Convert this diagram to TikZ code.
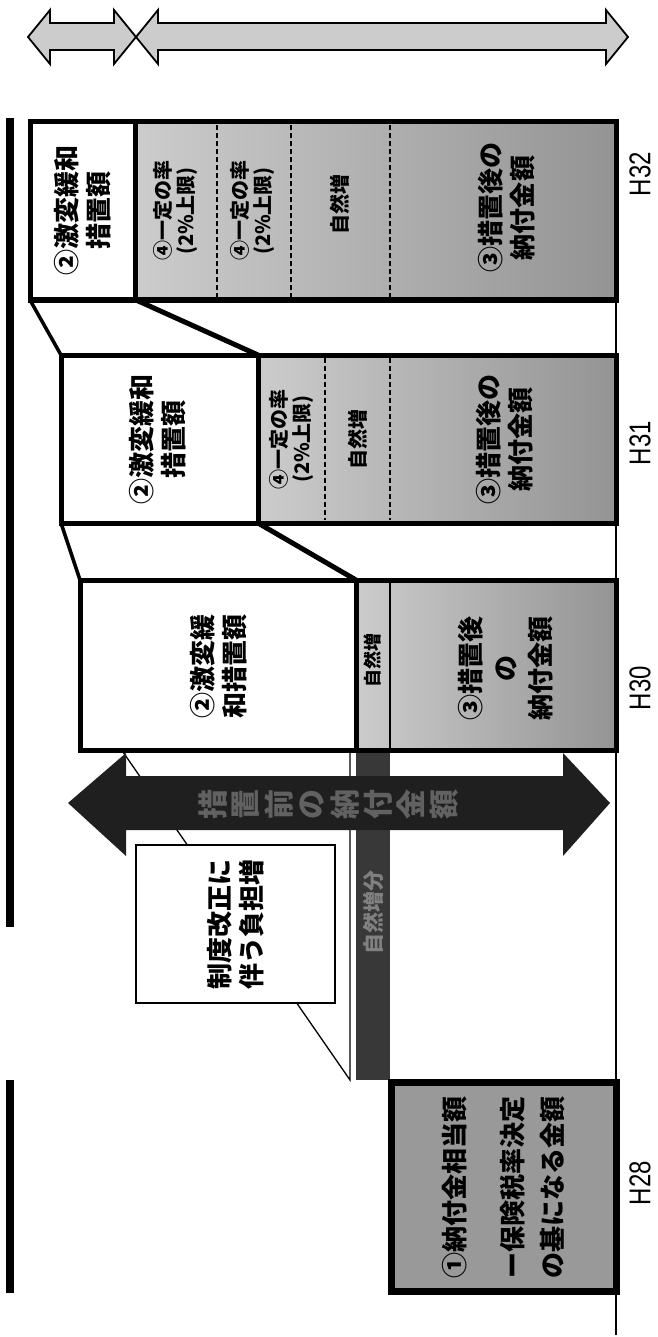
\documentclass[tikz,border=0pt]{standalone}
\usepackage{fontspec}
\setmainfont{Noto Sans CJK JP}
\newfontfamily\latn[FakeStretch=0.8]{Liberation Sans}
\usetikzlibrary{calc}
\begin{document}
\begin{tikzpicture}[x=1pt,y=-1pt,
  bigtxt/.style={rotate=90,align=center,inner sep=0pt,font=\fontsize{26}{32}\selectfont\bfseries},
  smalltxt/.style={rotate=90,align=center,inner sep=0pt,font=\fontsize{20}{23}\selectfont\bfseries},
  yearlbl/.style={rotate=90,inner sep=0pt,font=\latn\fontsize{30}{32}\selectfont},
  graybox/.style={left color=black!20,right color=black!42},
  thickframe/.style={line width=5pt},
  divider/.style={line width=1.6pt,dashed,dash pattern=on 5pt off 3pt},
  toparrow/.style={fill=black!20,draw=black,line width=1.8pt,line join=miter},
  wedge/.style={fill=white,draw=black,line width=1.3pt},
  darkfill/.style={fill=black!78}
]
\useasboundingbox (0,0) rectangle (657,1337);
\fill[white] (0,0) rectangle (657,1337);

% top arrows
\draw[toparrow] (28,37) -- (50,10) -- (50,23) -- (114,23) -- (114,10) -- (136,37)
   -- (114,64) -- (114,50) -- (50,50) -- (50,64) -- cycle;
\draw[toparrow] (136,37) -- (158,10) -- (158,23) -- (606,23) -- (606,10) -- (628,37)
   -- (606,64) -- (606,50) -- (158,50) -- (158,64) -- cycle;

% left bars
\fill[black] (6,118) rectangle (14,927);
\fill[black] (6,1080) rectangle (14,1293);

% baseline
\coordinate (base top) at (616,120);
\coordinate (base bot) at (616,1335);
\draw[line width=2pt] (base top) -- (base bot);

% wedge for H28 -> H30
\draw[wedge] (123,752) -- (350,752) -- (350,1080) -- cycle;
% natural increase bar
\fill[darkfill] (356,752) rectangle (390,1080);
\node[rotate=90,text=black!50,font=\fontsize{21}{24}\selectfont\bfseries] (nb) at (373,912) {自然増分};

% trapezoids
\fill[white] (30,300) -- (136,300) -- (258,355) -- (61,355) -- cycle;
\draw[line width=3.5pt] (30,300) -- (61,355);
\draw[line width=5pt] (136,300) -- (258,355);
\fill[white] (61,523) -- (258,523) -- (356,580) -- (80,580) -- cycle;
\draw[line width=3.5pt] (61,523) -- (80,580);
\draw[line width=5pt] (258,523) -- (356,580);

% H32
\fill[graybox] (135,122) rectangle (616,300);
\fill[white] (30,122) rectangle (135,300);
\foreach \xx in {217,291,390} \draw[divider] (\xx,125) -- (\xx,297);
\draw[thickframe] (30,122) rectangle (616,300);
\draw[thickframe] (135,122) -- (135,300);
\node[bigtxt] (g32) at (83,211) {②激変緩和\\措置額};
\node[smalltxt] (r32a) at (175,211) {④一定の率\\(2\%上限)};
\node[smalltxt] (r32b) at (252,211) {④一定の率\\(2\%上限)};
\node[smalltxt] (n32) at (340,205) {自然増};
\node[bigtxt] (p32) at (507,208) {③措置後の\\納付金額};
\node[yearlbl] (y32) at (640,174) {H32};

% H31
\fill[graybox] (258,355) rectangle (616,523);
\fill[white] (61,355) rectangle (258,523);
\foreach \xx in {325,390} \draw[divider] (\xx,358) -- (\xx,520);
\draw[thickframe] (61,355) rectangle (616,523);
\draw[thickframe] (258,355) -- (258,523);
\node[bigtxt] (g31) at (158,439) {②激変緩和\\措置額};
\node[smalltxt] (r31) at (291,439) {④一定の率\\(2\%上限)};
\node[smalltxt] (n31) at (358,439) {自然増};
\node[bigtxt] (p31) at (505,439) {③措置後の\\納付金額};
\node[yearlbl] (y31) at (640,443) {H31};

% H30
\fill[graybox] (356,580) rectangle (616,750);
\fill[white] (80,580) rectangle (356,750);
\draw[line width=1.4pt] (390,582) -- (390,748);
\draw[thickframe] (80,580) rectangle (616,750);
\draw[thickframe] (356,580) -- (356,750);
\node[bigtxt] (g30) at (219,666) {②激変緩\\和措置額};
\node[smalltxt,font=\fontsize{18}{20}\selectfont\bfseries] (n30) at (373,660) {自然増};
\node[bigtxt,font=\fontsize{26}{35}\selectfont\bfseries] (p30) at (506,668) {③措置後\\の\\納付金額};
\node[yearlbl] (y30) at (640,688) {H30};

% big dark double arrow
\fill[black!88] (68,803) -- (126,753) -- (126,776) -- (563,776) -- (563,753) -- (610,803)
   -- (563,856) -- (563,830) -- (126,830) -- (126,856) -- cycle;
\foreach \c [count=\i] in {措,置,前,の,納,付,金,額}
  \node[rotate=90,text=black!62,inner sep=0pt,font=\fontsize{30}{32}\selectfont\bfseries] (ar\i) at (180+\i*33,804) {\c};

% callout box
\node[draw=black,line width=1.3pt,fill=white,minimum width=199pt,minimum height=158pt,inner sep=0pt] (cb) at (235.5,924) {};
\node[bigtxt] (cbt) at (236,924) {制度改正に\\伴う負担増};

% H28
\fill[black!40] (390,1082) rectangle (616,1291);
\draw[line width=7pt] (391,1082) rectangle (616,1291);
\node[bigtxt,font=\fontsize{26}{32}\selectfont\bfseries] (t28a) at (455,1187) {①納付金相当額};
\node[bigtxt,font=\fontsize{26}{40}\selectfont\bfseries] (t28b) at (533,1187) {ー保険税率決定\\の基になる金額};
\node[yearlbl] (y28) at (640,1183) {H28};
\end{tikzpicture}
\end{document}
